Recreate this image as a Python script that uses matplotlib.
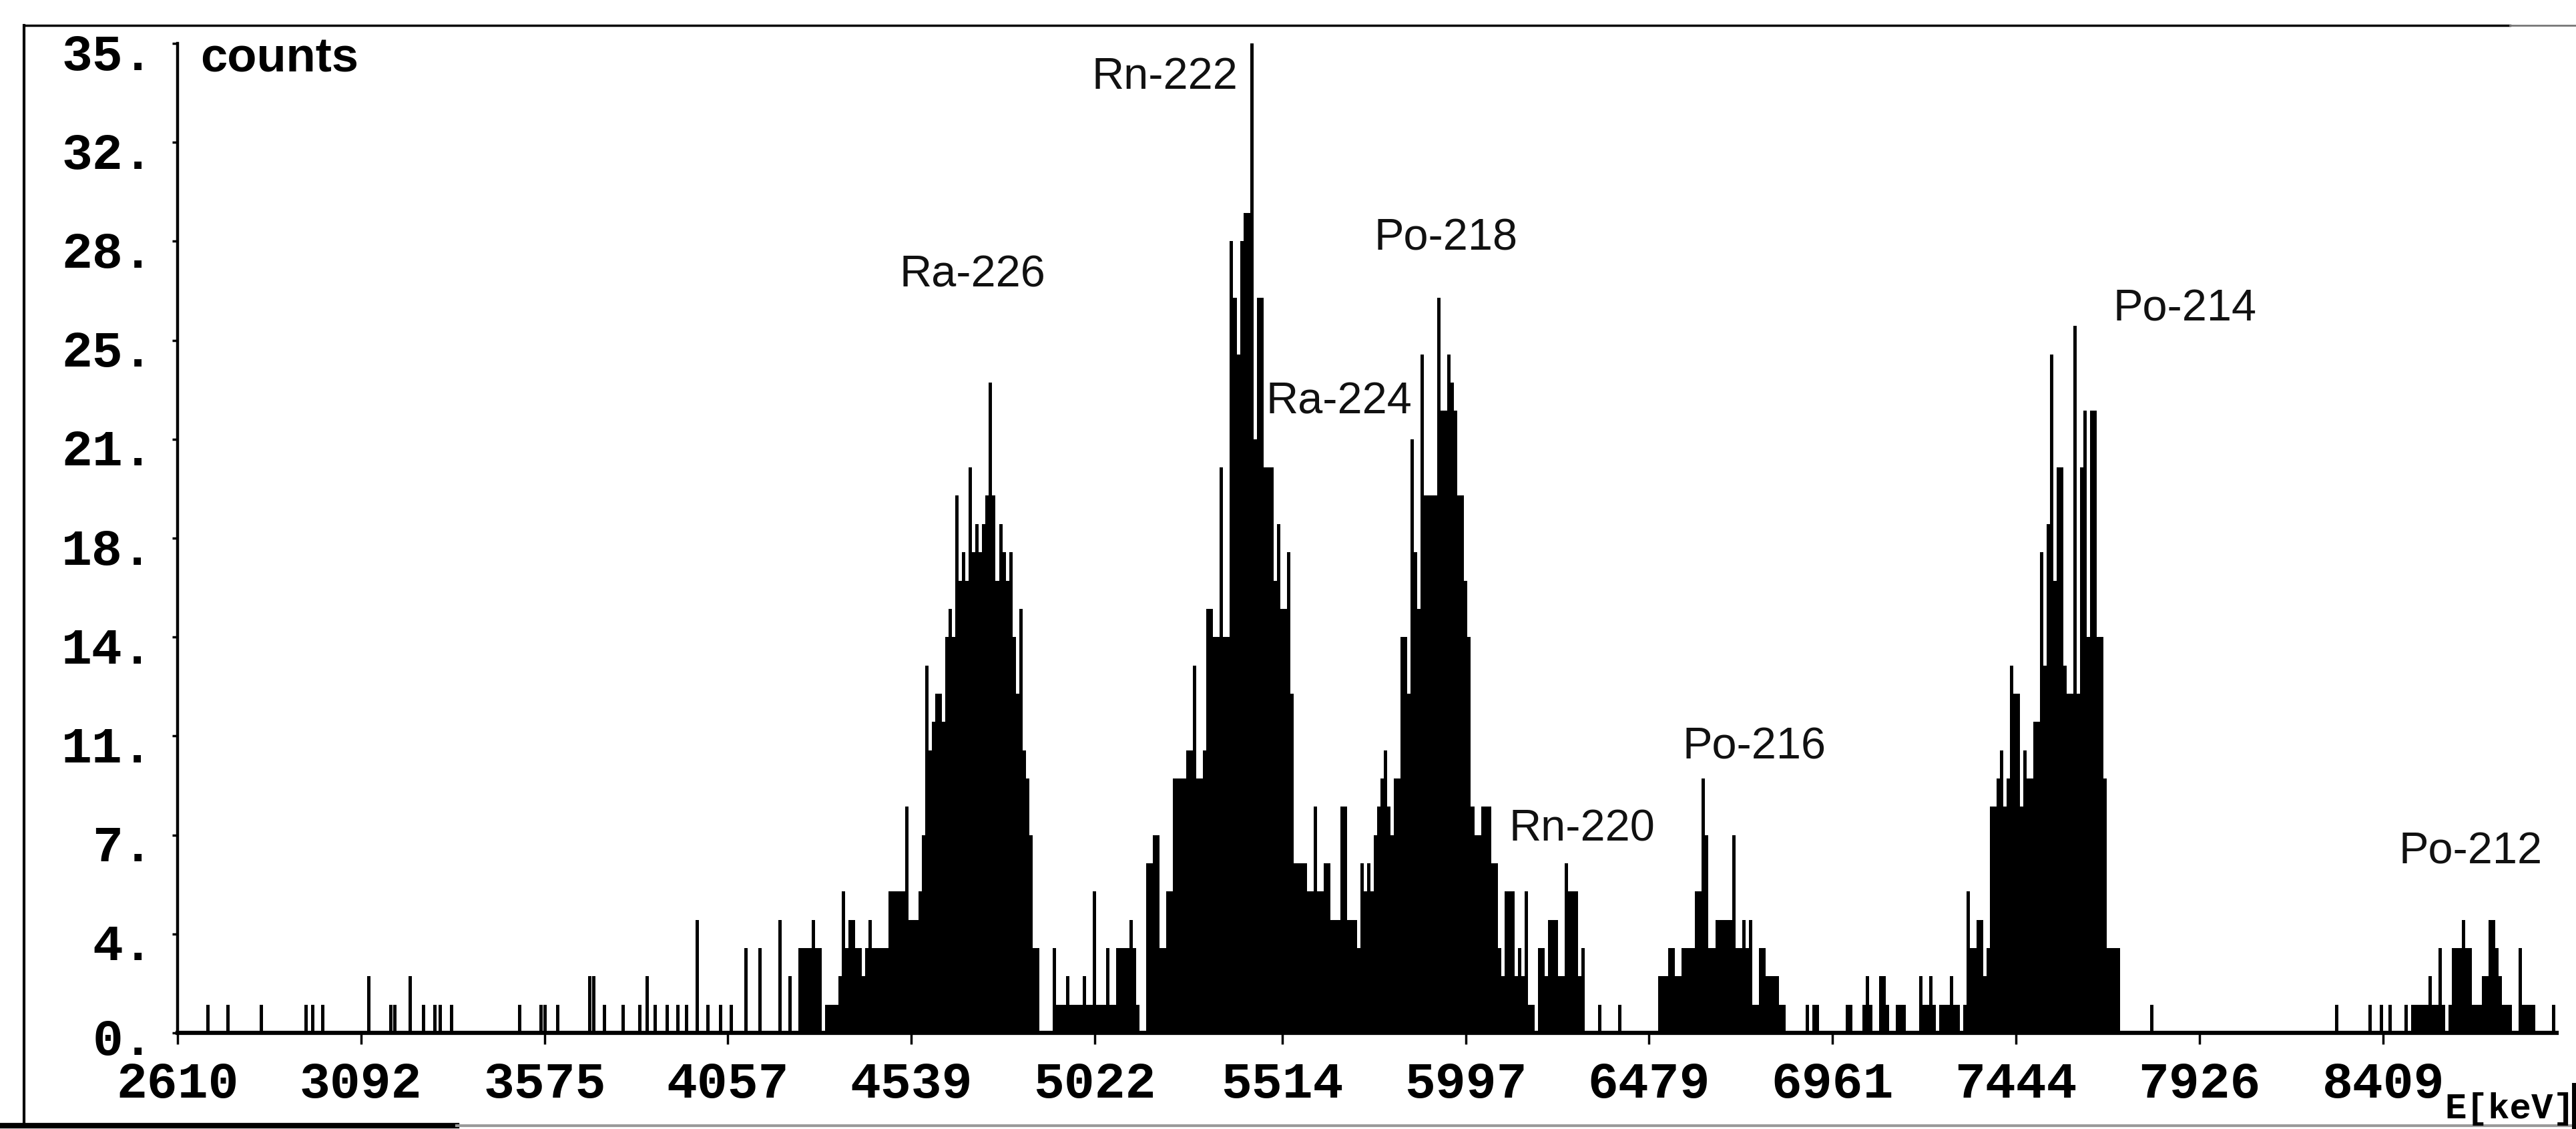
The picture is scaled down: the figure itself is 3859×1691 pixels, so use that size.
import numpy as np
import matplotlib
matplotlib.use("Agg")
import matplotlib.pyplot as plt
from matplotlib.lines import Line2D
import matplotlib.transforms as mtransforms

# ---------------- data ----------------
W = 8.8            # keV per channel
E0 = 4184.4        # centre of first channel of the dense block

ra226 = [0, 4, 0, 0, 2, 0, 0, 3, 3, 3,
         3, 4, 3, 3, 0, 1, 1, 1, 1, 2,
         5, 3, 4, 4, 3, 3, 2, 3, 4, 3,
         3, 3, 3, 3, 5, 5, 5, 5, 5, 8,
         4, 4, 4, 5, 7, 13, 10, 11, 12, 12,
         11, 14, 15, 14, 19, 16, 17, 16, 20, 17,
         18, 17, 18, 19, 23, 19, 16, 18, 17, 16,
         17, 14, 12, 15, 10, 9, 7, 3, 3, 0,
         0, 0, 0, 3, 1, 1, 1, 2, 1, 1,
         1, 1, 2, 1, 1, 5, 1, 1]

rn222 = [1, 3, 1, 1, 3, 3, 3, 3, 4, 3,
         1, 0, 0, 6, 6, 7, 7, 3, 3, 5,
         5, 9, 9, 9, 9, 10, 10, 13, 9, 9,
         10, 15, 15, 14, 14, 20, 14, 14, 28, 26,
         24, 28, 29, 29, 35, 21, 26, 26, 20, 20,
         20, 16, 18, 15, 15, 17, 12, 6, 6, 6,
         6, 5, 5, 8, 5, 5, 6, 6, 4, 4,
         4, 8, 8, 4, 4, 4, 3, 6, 5, 6,
         5, 7, 8, 9, 10, 8, 7, 9, 9, 14,
         14, 12, 21, 17, 15, 24, 19, 19, 19, 19]

po218 = [26, 22, 22, 24, 23, 22, 19, 19, 16, 14,
         8, 7, 7, 8, 8, 8, 6, 6, 3, 2,
         5, 5, 5, 2, 3, 2, 5, 1, 1, 0,
         3, 3, 2, 4, 4, 4, 2, 2, 6, 5,
         5, 5, 2, 3, 0, 0, 0, 0, 1, 0,
         0, 0, 0, 0, 1, 0, 0, 0, 0, 0]

po216 = [0, 0, 0, 0, 0, 0, 2, 2, 2, 3,
         3, 2, 2, 3, 3, 3, 3, 5, 5, 9,
         7, 3, 3, 4, 4, 4, 4, 4, 7, 3,
         3, 4, 3, 4, 1, 1, 3, 3, 2, 2,
         2, 2, 1, 1, 0, 0, 0, 0, 0, 0,
         1, 0, 1, 1, 0, 0, 0, 0, 0, 0,
         0, 0, 1, 1, 0, 0, 0, 1, 2, 1,
         0, 0, 2, 2, 1, 0, 0, 1, 1, 1,
         0, 0, 0, 0, 2, 1, 1, 2, 1, 0]

po214 = [1, 1, 1, 2, 1, 1, 0, 1, 5, 3,
         3, 4, 4, 2, 3, 8, 8, 9, 10, 8,
         9, 13, 12, 12, 8, 10, 9, 9, 11, 11,
         17, 13, 18, 24, 16, 20, 20, 13, 12, 12,
         25, 12, 20, 22, 14, 22, 22, 14, 14, 9,
         3, 3, 3, 3, 0, 0, 0, 0, 0, 0,
         0, 0, 0, 1, 0, 0]

po212_start = 8470.0
po212 = [1, 0, 1, 1, 1, 1, 1, 2, 1, 1,
         3, 1, 0, 1, 3, 3, 3, 4, 3, 3,
         1, 1, 1, 2, 2, 4, 4, 3, 2, 1,
         1, 1, 0, 0, 3, 1, 1, 1, 1, 0,
         0, 0, 0, 0, 1]

scatter_E = [2690, 2742, 2831, 2948, 2965, 2992, 3112, 3170, 3181, 3222,
             3256, 3287, 3300, 3331, 3509, 3565, 3576, 3609, 3693, 3704,
             3732, 3782, 3826, 3845, 3865, 3898, 3926, 3948, 3976, 4004,
             4037, 4065, 4104, 4141, 8287, 8375, 8405, 8427]
scatter_counts = [1, 1, 1, 1, 1, 1, 2, 1, 1, 2,
                  1, 1, 1, 1, 1, 1, 1, 1, 2, 2,
                  1, 1, 1, 2, 1, 1, 1, 1, 4, 1,
                  1, 1, 3, 3, 1, 1, 1, 1]

x_ticks = [2610, 3092, 3575, 4057, 4539, 5022, 5514, 5997, 6479, 6961, 7444, 7926, 8409]
x_ticklabels = ["2610", "3092", "3575", "4057", "4539", "5022", "5514", "5997",
                "6479", "6961", "7444", "7926", "8409"]
y_ticks = [0, 3.5, 7, 10.5, 14, 17.5, 21, 24.5, 28, 31.5, 35]
y_ticklabels = ["0.", "4.", "7.", "11.", "14.", "18.", "21.", "25.", "28.", "32.", "35."]

peak_names = ["Ra-226", "Rn-222", "Po-218", "Ra-224", "Po-214", "Rn-220", "Po-216", "Po-212"]
peak_E = [4700, 5206, 5945, 5664, 7888, 6303, 6756, 8639]
peak_y = [26.8, 33.8, 28.1, 22.3, 25.6, 7.2, 10.1, 6.4]

# ---------------- figure ----------------
FW, FH = 3859, 1691
fig = plt.figure(figsize=(FW / 100, FH / 100), dpi=100)
fig.patch.set_facecolor("white")

ax_left, ax_right, ax_top, ax_bot = 266, 3830, 65, 1547
ax = fig.add_axes([ax_left / FW, 1 - ax_bot / FH,
                   (ax_right - ax_left) / FW, (ax_bot - ax_top) / FH])
ax.set_facecolor("white")

dense = ra226 + rn222 + po218 + po216 + po214
dense_x = E0 + W * np.arange(len(dense))
po212_x = po212_start + W * np.arange(len(po212))

bar_kw = dict(width=W, color="black", linewidth=0, align="center")
ax.bar(dense_x, dense, **bar_kw)
ax.bar(po212_x, po212, **bar_kw)
ax.bar(scatter_E, scatter_counts, **bar_kw)

ax.set_xlim(2610, 8865)
ax.set_ylim(0, 35)

for s in ("top", "right"):
    ax.spines[s].set_visible(False)
ax.spines["left"].set_linewidth(3.2)
ax.spines["bottom"].set_linewidth(4.5)

mono = dict(fontfamily="Liberation Mono", fontweight="bold", fontsize=55)
ax.set_xticks(x_ticks, labels=x_ticklabels, **mono)
ax.set_yticks(y_ticks, labels=y_ticklabels, **mono)
ax.tick_params(axis="x", direction="out", length=12, width=2.5, pad=18, colors="black")
ax.tick_params(axis="y", direction="out", length=6, width=2.5, pad=20, colors="black")
for lab in ax.get_yticklabels():
    dy = -5 if lab.get_text() == "0." else -12
    off = mtransforms.ScaledTranslation(0, dy / 100, fig.dpi_scale_trans)
    lab.set_transform(lab.get_transform() + off)

# axis titles
fig.text(300 / FW, 1 - 108 / FH, "counts", fontfamily="Liberation Sans",
         fontweight="bold", fontsize=52, ha="left", va="baseline")
fig.text(3662 / FW, 1 - 1636 / FH, "E[keV]", fontfamily="Liberation Mono",
         fontweight="bold", fontsize=39, ha="left", va="top")

# peak labels
for name, ex, ey in zip(peak_names, peak_E, peak_y):
    ax.text(ex, ey, name, fontfamily="Liberation Sans", fontsize=48,
            ha="center", va="center", color="#111111")

# outer frame (scanned page border)
def fline(xs, ys, lw, color="black"):
    fig.add_artist(Line2D([x / FW for x in xs], [1 - y / FH for y in ys],
                          transform=fig.transFigure, color=color, lw=lw))

fline([36, 36], [38, 1684], 3)
fline([36, 3760], [38, 38], 2.5)
fline([3760, 3859], [38, 38], 2, color="#777777")
fline([0, 684], [1686, 1686], 6)
fline([684, 3859], [1686, 1686], 3, color="#9a9a9a")
fline([3856, 3856], [1625, 1691], 5)

fig.savefig("out.png", dpi=100, facecolor="white")
